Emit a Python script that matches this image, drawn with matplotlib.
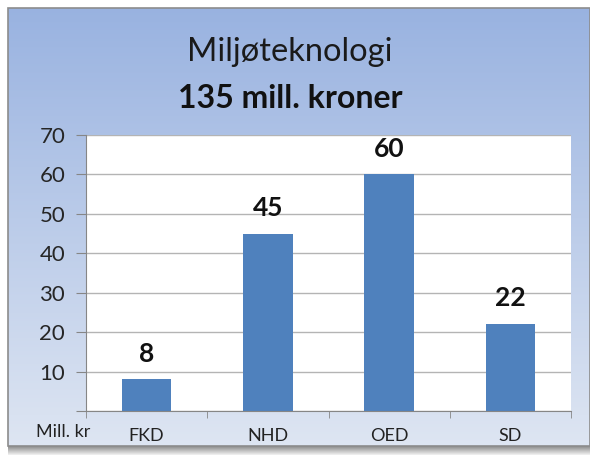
import numpy as np
import matplotlib
matplotlib.use("Agg")
import matplotlib.pyplot as plt
from matplotlib.patches import Rectangle

plt.rcParams['font.family'] = ['Lato', 'DejaVu Sans']

categories = ["FKD", "NHD", "OED", "SD"]
values = [8, 45, 60, 22]
yticks = [0, 10, 20, 30, 40, 50, 60, 70]
ytick_labels = ["", "10", "20", "30", "40", "50", "60", "70"]

W, H = 590, 455
fig = plt.figure(figsize=(W / 100, H / 100), dpi=100)
fig.patch.set_facecolor("white")

# background panel with vertical gradient
bg = fig.add_axes([0, 0, 1, 1])
bg.axis("off")
# shadow under the panel
sh = np.linspace(0.45, 0.95, 64)[:, None, None] * np.ones((1, 1, 3))
bg.imshow(sh, extent=[8, W, 455, 444], aspect="auto", zorder=0)
top = np.array([0.60, 0.70, 0.88])
bot = np.array([0.87, 0.90, 0.95])
t = np.linspace(0, 1, 256)[:, None]
grad = (top[None, :] * (1 - t) + bot[None, :] * t)[:, None, :]
bg.imshow(grad, extent=[8, W, 446, 8], aspect="auto", zorder=1)
bg.add_patch(Rectangle((8, 8), W - 8, 438, fill=False, ec="#8c8c8c", lw=1.2, zorder=2))
bg.set_xlim(0, W)
bg.set_ylim(H, 0)

bg.text(290, 52, "Miljøteknologi", ha="center", va="center", fontsize=23.5, color="#1a1a1a", zorder=3)
bg.text(290, 98, "135 mill. kroner", ha="center", va="center", fontsize=23, fontweight="bold",
        color="#111111", zorder=3)
bg.text(63, 432, "Mill. kr", ha="center", va="center", fontsize=13, color="#222222", zorder=3)

# plot area
ax = fig.add_axes([86 / W, 1 - 411 / H, (571 - 86) / W, (411 - 135) / H])
ax.set_facecolor("white")
x = np.arange(len(categories))
ax.bar(x, values, width=0.41, color="#4f81bd", zorder=2)
for xi, v in zip(x, values):
    ax.text(xi, v + 3.5, str(v), ha="center", va="bottom", fontsize=19, fontweight="bold", color="#111111")

ax.set_xlim(-0.5, len(categories) - 0.5)
ax.set_ylim(0, 70)
ax.set_yticks(yticks)
ax.set_yticklabels(ytick_labels, fontsize=16, color="#262626")
ax.yaxis.grid(True, color="#b4b4b4", lw=1, zorder=0)
ax.set_axisbelow(True)
ax.set_xticks(x)
ax.set_xticklabels(categories, fontsize=13, color="#222222")
ax.set_xticks(np.arange(-0.5, len(categories)), minor=True)
ax.tick_params(axis="x", which="major", length=0, pad=12)
ax.tick_params(axis="x", which="minor", length=5, direction="out", color="#868686")
ax.tick_params(axis="y", length=7, direction="out", color="#868686", pad=8)
for s in ["top", "right"]:
    ax.spines[s].set_visible(False)
for s in ["left", "bottom"]:
    ax.spines[s].set_color("#868686")

fig.savefig("out.png", dpi=100)
